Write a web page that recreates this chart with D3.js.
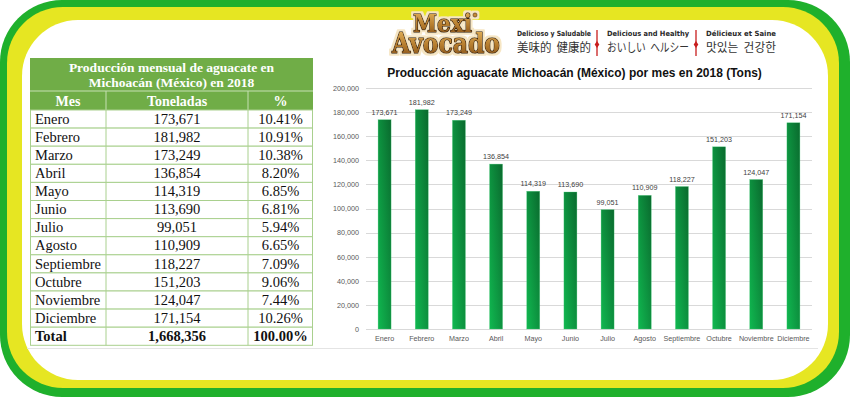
<!DOCTYPE html>
<html>
<head>
<meta charset="utf-8">
<script src="https://cdn.jsdelivr.net/npm/d3@7"></script>
<style>
  body { margin: 0; background: #fff; }
  svg { display: block; }
</style>
</head>
<body>
<div id="graph"></div>
<script>
const months = ["Enero", "Febrero", "Marzo", "Abril", "Mayo", "Junio", "Julio", "Agosto", "Septiembre", "Octubre", "Noviembre", "Diciembre"];
const tons = [173671, 181982, 173249, 136854, 114319, 113690, 99051, 110909, 118227, 151203, 124047, 171154];
const pct = [10.41, 10.91, 10.38, 8.20, 6.85, 6.81, 5.94, 6.65, 7.09, 9.06, 7.44, 10.26];
const totalTons = 1668356;
const totalPct = 100.00;
const yTicks = [0, 20000, 40000, 60000, 80000, 100000, 120000, 140000, 160000, 180000, 200000];
const taglines = [
  ["Delicioso y Saludable", "美味的  健康的"],
  ["Delicious and Healthy", "おいしい  ヘルシー"],
  ["Délicieux et Saine", "맛있는  건강한"]
];

(function() {
  const W = 850, H = 397;
  const fmt = d3.format(",");
  const svg = d3.select("#graph").append("svg").attr("width", W).attr("height", H);
  const defs = svg.append("defs");

  // frame
  svg.append("rect").attr("x", 0).attr("y", 0).attr("width", W).attr("height", H)
    .attr("rx", 62).attr("fill", "#1fb02c");
  svg.append("rect").attr("x", 7).attr("y", 7).attr("width", 832).attr("height", 381)
    .attr("rx", 56).attr("fill", "#e6e622");
  svg.append("rect").attr("x", 22).attr("y", 20).attr("width", 806).attr("height", 360)
    .attr("rx", 56).attr("fill", "#ffffff");

  svg.append("line").attr("x1", 27).attr("x2", 818).attr("y1", 348.5).attr("y2", 348.5)
    .attr("stroke", "#e4e4e4").attr("stroke-width", 1);

  // ---------- table ----------
  const tx0 = 30, tx1 = 313, c1 = 106, c2 = 248;
  const titleTop = 58, headTop = 91, rowTop = 110, rowH = 18.1;
  const serif = "'Liberation Serif', 'DejaVu Serif', serif";
  const tbl = svg.append("g");

  tbl.append("rect").attr("x", tx0).attr("y", titleTop).attr("width", tx1 - tx0)
    .attr("height", rowTop - titleTop).attr("fill", "#70ad47");
  tbl.append("line").attr("x1", tx0).attr("x2", tx1).attr("y1", headTop).attr("y2", headTop)
    .attr("stroke", "#c6e0b4").attr("stroke-width", 1);
  [c1, c2].forEach(cx => {
    tbl.append("line").attr("x1", cx).attr("x2", cx).attr("y1", headTop).attr("y2", rowTop)
      .attr("stroke", "#c6e0b4").attr("stroke-width", 1);
  });

  ["Producción mensual de aguacate en", "Michoacán (México) en 2018"].forEach((t, i) => {
    tbl.append("text").attr("x", (tx0 + tx1) / 2).attr("y", titleTop + 14 + i * 15)
      .attr("text-anchor", "middle").attr("font-family", serif).attr("font-weight", "bold")
      .attr("font-size", 13.5).attr("fill", "#fff").text(t);
  });
  [["Mes", (tx0 + c1) / 2], ["Toneladas", (c1 + c2) / 2], ["%", (c2 + tx1) / 2]].forEach(([t, x]) => {
    tbl.append("text").attr("x", x).attr("y", headTop + 14.5).attr("text-anchor", "middle")
      .attr("font-family", serif).attr("font-weight", "bold").attr("font-size", 14)
      .attr("fill", "#fff").text(t);
  });

  const rows = months.map((m, i) => ({ m: m, v: fmt(tons[i]), p: pct[i].toFixed(2) + "%", bold: false }));
  rows.push({ m: "Total", v: fmt(totalTons), p: totalPct.toFixed(2) + "%", bold: true });

  const border = "#a9d08e";
  const row = tbl.selectAll(".row").data(rows).enter().append("g")
    .attr("transform", (d, i) => `translate(0,${rowTop + i * rowH})`);
  row.append("rect").attr("x", tx0 + 0.5).attr("y", 0).attr("width", tx1 - tx0 - 1).attr("height", rowH)
    .attr("fill", "#fff").attr("stroke", border).attr("stroke-width", 1);
  [c1, c2].forEach(cx => {
    row.append("line").attr("x1", cx).attr("x2", cx).attr("y1", 0).attr("y2", rowH)
      .attr("stroke", border).attr("stroke-width", 1);
  });
  const cell = (sel, x, anchor, f) => sel.append("text").attr("x", x).attr("y", 13.8)
    .attr("text-anchor", anchor).attr("font-family", serif).attr("font-size", 14.5)
    .attr("font-weight", d => d.bold ? "bold" : "normal").attr("fill", "#111").text(f);
  cell(row, tx0 + 5, "start", d => d.m);
  cell(row, (c1 + c2) / 2, "middle", d => d.v);
  cell(row, (c2 + tx1) / 2, "middle", d => d.p);

  // ---------- logo ----------
  const gold = defs.append("linearGradient").attr("id", "gold").attr("x1", 0).attr("y1", 0).attr("x2", 0).attr("y2", 1);
  gold.append("stop").attr("offset", "0%").attr("stop-color", "#e8b860");
  gold.append("stop").attr("offset", "55%").attr("stop-color", "#b67d2e");
  gold.append("stop").attr("offset", "100%").attr("stop-color", "#7d4a16");

  // light halo around the lettering
  const halo = defs.append("filter").attr("id", "halo").attr("x", "-10%").attr("y", "-20%")
    .attr("width", "120%").attr("height", "140%");
  halo.append("feMorphology").attr("in", "SourceAlpha").attr("operator", "dilate")
    .attr("radius", 2).attr("result", "grow");
  halo.append("feFlood").attr("flood-color", "#f6e6c4");
  halo.append("feComposite").attr("in2", "grow").attr("operator", "in").attr("result", "glow");
  const merge = halo.append("feMerge");
  merge.append("feMergeNode").attr("in", "glow");
  merge.append("feMergeNode").attr("in", "SourceGraphic");

  const logo = svg.append("g").attr("filter", "url(#halo)");
  const logoFont = "'DejaVu Serif', serif";
  const logoText = (t, x, y, len, size) => {
    logo.append("text").attr("x", x).attr("y", y).attr("font-family", logoFont)
      .attr("font-weight", "bold").attr("font-size", size)
      .attr("textLength", len).attr("lengthAdjust", "spacingAndGlyphs")
      .attr("fill", "url(#gold)").attr("stroke", "#3a220c").attr("stroke-width", 1.6)
      .attr("paint-order", "stroke").attr("stroke-linejoin", "round").text(t);
  };
  logoText("Mexi", 413, 32, 59, 24);
  logoText("Avocado", 392, 53, 108, 27);
  logo.append("circle").attr("cx", 475).attr("cy", 15).attr("r", 2.2)
    .attr("fill", "#c48a35").attr("stroke", "#3a220c").attr("stroke-width", 0.6);

  // taglines
  const tagX = [[517, 591], [607, 689], [706, 776]];
  const cjkFonts = ["'Noto Sans CJK SC'", "'Noto Sans CJK JP'", "'Noto Sans CJK KR'"];
  taglines.forEach((tl, i) => {
    const [a, b] = tagX[i];
    svg.append("text").attr("x", (a + b) / 2).attr("y", 36).attr("text-anchor", "middle")
      .attr("font-family", "'DejaVu Sans', sans-serif").attr("font-weight", "bold")
      .attr("font-size", 7.2).attr("textLength", b - a).attr("lengthAdjust", "spacingAndGlyphs")
      .attr("fill", "#2a2a2a").text(tl[0]);
    svg.append("text").attr("x", (a + b) / 2).attr("y", 52).attr("text-anchor", "middle")
      .attr("font-family", cjkFonts[i] + ", sans-serif").attr("font-size", 12)
      .attr("textLength", b - a).attr("lengthAdjust", "spacingAndGlyphs")
      .attr("xml:space", "preserve").style("white-space", "pre")
      .attr("fill", "#333").text(tl[1]);
  });
  [597, 696].forEach(sx => {
    svg.append("line").attr("x1", sx).attr("x2", sx).attr("y1", 30).attr("y2", 56)
      .attr("stroke", "#c81e1e").attr("stroke-width", 1.3);
    svg.append("path").attr("d", `M${sx},41 L${sx + 2.3},44.5 L${sx},48 L${sx - 2.3},44.5 Z`)
      .attr("fill", "#c81e1e");
  });

  // ---------- bar chart ----------
  const sans = "'Liberation Sans', Arial, sans-serif";
  const title = svg.append("text").attr("x", 574.5).attr("y", 76.5).attr("text-anchor", "middle")
    .attr("font-family", sans).attr("font-weight", "bold").attr("font-size", 12.5)
    .attr("fill", "#111").text("Producción aguacate Michoacán (México) por mes en 2018 (Tons)");
  const tw = title.node().getComputedTextLength();
  title.attr("font-size", 12.5 * 375 / tw);

  const x = d3.scaleBand().domain(months).range([366, 812]).paddingInner(0.65).paddingOuter(0.325);
  const y = d3.scaleLinear().domain([0, 200000]).range([329, 88]);

  const grad = defs.append("linearGradient").attr("id", "barGrad")
    .attr("x1", 0).attr("y1", 1).attr("x2", 1).attr("y2", 0);
  grad.append("stop").attr("offset", "0%").attr("stop-color", "#10b850");
  grad.append("stop").attr("offset", "100%").attr("stop-color", "#0a6a2e");

  const grid = svg.append("g");
  grid.selectAll("line").data(yTicks).enter().append("line")
    .attr("x1", 366).attr("x2", 812)
    .attr("y1", d => Math.round(y(d)) + 0.5).attr("y2", d => Math.round(y(d)) + 0.5)
    .attr("stroke", "#d9d9d9").attr("stroke-width", 1);

  const yAxis = svg.append("g").attr("transform", "translate(359,0)")
    .call(d3.axisLeft(y).tickValues(yTicks).tickFormat(fmt).tickSize(0).tickPadding(0));
  yAxis.select(".domain").remove();
  yAxis.selectAll("text").attr("font-family", sans).attr("font-size", 7.2).attr("fill", "#595959");

  const xAxis = svg.append("g").attr("transform", "translate(0,329)")
    .call(d3.axisBottom(x).tickSize(0).tickPadding(7));
  xAxis.select(".domain").remove();
  xAxis.selectAll("text").attr("font-family", sans).attr("font-size", 7.2).attr("fill", "#595959");

  const bars = svg.append("g");
  bars.selectAll("rect").data(tons).enter().append("rect")
    .attr("x", (d, i) => x(months[i])).attr("width", x.bandwidth())
    .attr("y", d => y(d)).attr("height", d => y(0) - y(d))
    .attr("fill", "url(#barGrad)").attr("stroke", "#4fcf7f").attr("stroke-width", 0.5)
    .attr("stroke-opacity", 0.6);

  bars.selectAll("text").data(tons).enter().append("text")
    .attr("x", (d, i) => x(months[i]) + x.bandwidth() / 2).attr("y", d => y(d) - 5)
    .attr("text-anchor", "middle").attr("font-family", sans).attr("font-size", 7.2)
    .attr("fill", "#404040").text(d => fmt(d));
})();
</script>
</body>
</html>
